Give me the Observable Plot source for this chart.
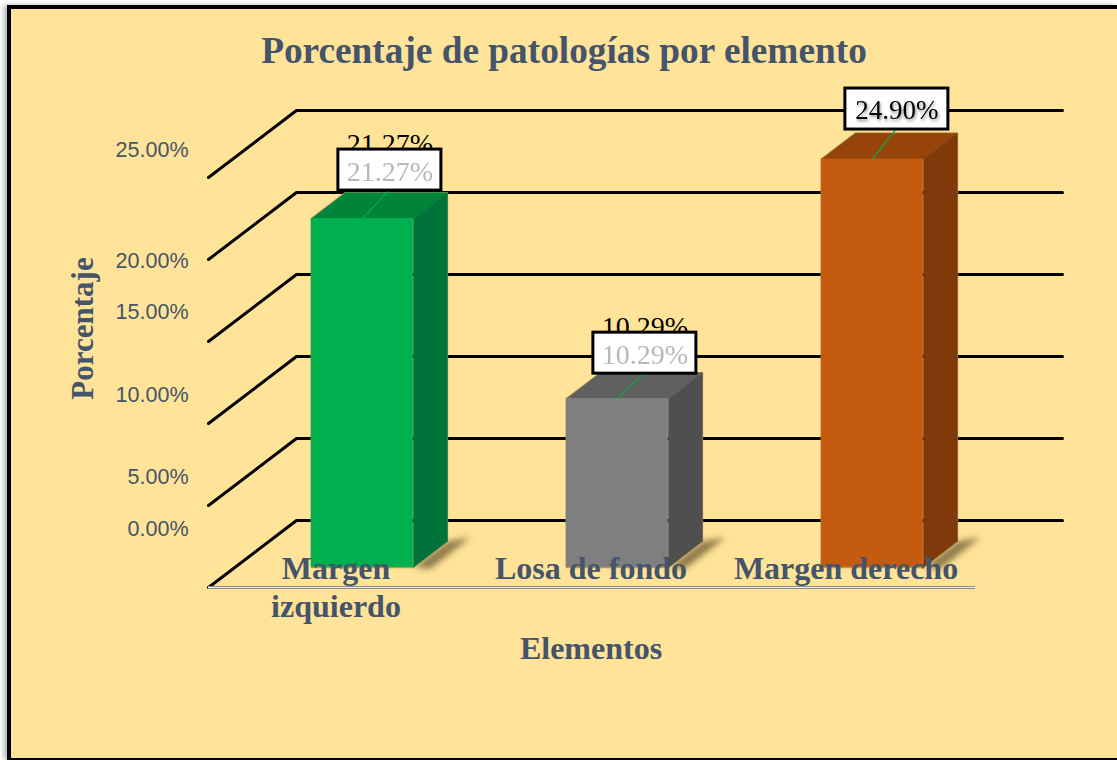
<!DOCTYPE html>
<html lang="es">
<head>
<meta charset="utf-8">
<title>Porcentaje de patologías por elemento</title>
<script src="https://cdn.jsdelivr.net/npm/d3@7"></script>
<script src="https://cdn.jsdelivr.net/npm/@observablehq/plot@0.6"></script>
<style>
  html, body { margin: 0; padding: 0; background: #fff; width: 1117px; height: 760px; overflow: hidden; }
  #frame { position: absolute; left: 7px; top: 5px; width: 1110px; height: 755px; box-sizing: border-box;
           background: #FFE398; border-left: 4px solid #000; border-top: 4px solid #000; border-bottom: 2px solid #000;
           box-shadow: -3px 0 5px rgba(0,0,0,.3); }
  #chart { position: absolute; left: 0; top: 0; }
  #chart svg { background: transparent; display: block; }
</style>
</head>
<body>
<div id="frame"></div>
<div id="chart"></div>
<script>
// Data
const categories = ["Margen\nizquierdo", "Losa de fondo", "Margen derecho"];
const values = [21.27, 10.29, 24.90];
const tickValues = [0, 5, 10, 15, 20, 25];
const titleText = "Porcentaje de patologías por elemento";
const xTitle = "Elementos";
const yTitle = "Porcentaje";

// Styles
const frontColors = ["#00B04F", "#7F7F7F", "#C55A11"];
const topColors = ["#00843A", "#5F5F5F", "#964409"];
const sideColors = ["#00733A", "#4F4F4F", "#7F390B"];
const labelInk = ["#b8b8b8", "#b8b8b8", "#000000"];
const labelSize = [28, 28, 27];
const hasBackLabel = [true, true, false];
const ink = "#44546A";
const serif = "'Liberation Serif', serif";
const sans = "'Liberation Sans', sans-serif";

// Layout: oblique projection of the chart's depth axis, in scale units
const depthX = 0.345, depthY = 4.085;
const barStart = 0.3, barEnd = 0.7, barNear = 0.3, barFar = 0.686;
const wallEnd = 3.004, floorEnd = 3.008;
const tickNudge = [-58, -28, -28, -29, 2, -27];
const labelLift = [-48.5, -45.5, -50];
const labelShift = [0, 0, -3];
const project = (slot, value, z) => ({x: slot + z * depthX, y: value + z * depthY});
const polygon = (pts, options) => Plot.line(pts, {x: "x", y: "y", stroke: "none", ...options});

const marks = [];

// Wall and floor lines
tickValues.forEach(t => {
  marks.push(Plot.line(
    [project(0, t, 0), project(0, t, 1), project(wallEnd, t, 1)],
    {x: "x", y: "y", stroke: "#000", strokeWidth: 3}
  ));
});
marks.push(Plot.ruleY([0], {x1: 0, x2: floorEnd, stroke: "#8c8c8c", strokeWidth: 3}));
marks.push(Plot.ruleY([0], {x1: 0, x2: floorEnd, stroke: "#ececec", strokeWidth: 1}));

// Bars
values.forEach((v, i) => {
  const a = i + barStart, b = i + barEnd;
  marks.push(polygon(
    [project(b, 0, barNear), project(b, 0, barFar), project(b + 0.09, 0.25, barFar), project(b + 0.067, -0.06, barNear)],
    {fill: "#5c4d28", imageFilter: "blur(3px)", fillOpacity: 0.7}
  ));
  marks.push(polygon(
    [project(a, 0, barNear), project(b, 0, barNear), project(b, 0, barFar), project(b, v, barFar),
     project(a, v, barFar), project(a, v, barNear), project(a, 0, barNear)],
    {fill: "none", stroke: "#b09a5c", strokeWidth: 1.6}
  ));
  marks.push(polygon(
    [project(a, v, barNear), project(b, v, barNear), project(b, v, barFar), project(a, v, barFar)],
    {fill: topColors[i], stroke: topColors[i], strokeWidth: 0.5}
  ));
  marks.push(polygon(
    [project(b, 0, barNear), project(b, v, barNear), project(b, v, barFar), project(b, 0, barFar)],
    {fill: sideColors[i], stroke: sideColors[i], strokeWidth: 0.5}
  ));
  const nearBL = project(a, 0, barNear), nearTR = project(b, v, barNear);
  marks.push(Plot.rect([0], {
    x1: nearBL.x, x2: nearTR.x, y1: nearBL.y, y2: nearTR.y,
    fill: frontColors[i]
  }));
});

// Data labels with leader lines
values.forEach((v, i) => {
  const anchor = project(i + 0.5, v, barNear);
  const unitsY = labelLift[i] / 16.4;
  const cx = anchor.x + (27.5 + labelShift[i]) / 255, cy = anchor.y - unitsY;
  const halfW = 51.5 / 255, halfH = 20.5 / 16.4;
  const label = d3.format(".2f")(v) + "%";
  const base = {x: cx, y: cy, text: [label], fontFamily: serif, fontSize: labelSize[i], textAnchor: "middle"};
  marks.push(Plot.line([anchor, {x: cx - 0.005, y: cy - halfH}], {x: "x", y: "y", stroke: "#00B050", strokeWidth: 1.2}));
  if (hasBackLabel[i]) marks.push(Plot.text([0], {...base, dy: -26, fill: "#000"}));
  marks.push(Plot.rect([0], {
    x1: cx - halfW, x2: cx + halfW, y1: cy - halfH, y2: cy + halfH,
    fill: "#fff", stroke: "#000", strokeWidth: 3
  }));
  marks.push(Plot.text([0], {
    ...base, dy: 1.5, fill: labelInk[i],
    imageFilter: hasBackLabel[i] ? "blur(0.6px)" : "drop-shadow(1px 2px 1.5px rgba(0,0,0,.45))"
  }));
});

// Value tick labels
tickValues.forEach((t, i) => {
  marks.push(Plot.text([0], {
    x: 0, y: t, dx: -20, dy: tickNudge[i],
    text: [t.toFixed(2) + "%"], textAnchor: "end",
    fontFamily: sans, fontSize: 21.5, fill: ink
  }));
});

// Category labels
categories.forEach((c, i) => {
  marks.push(Plot.text([0], {
    x: i + 0.5, y: 0, dy: -36, text: [c], lineAnchor: "top", lineHeight: 1.2,
    textAnchor: "middle", fontFamily: serif, fontWeight: "bold", fontSize: 32, fill: ink
  }));
});

// Titles
marks.push(Plot.text([0], {
  x: 1.5, dx: -27, frameAnchor: "top", dy: -141, text: [titleText], textAnchor: "middle",
  fontFamily: serif, fontWeight: "bold", fontSize: 37.3, fill: ink
}));
marks.push(Plot.text([0], {
  x: 1.5, y: 0, dy: 61, text: [xTitle], textAnchor: "middle",
  fontFamily: serif, fontWeight: "bold", fontSize: 32, fill: ink
}));
marks.push(Plot.text([0], {
  x: 0, y: 0, dx: -125, dy: -259, text: [yTitle], rotate: -90, textAnchor: "middle",
  fontFamily: serif, fontWeight: "bold", fontSize: 31, fill: ink
}));

const chart = Plot.plot({
  width: 1117, height: 760,
  marginLeft: 208, marginRight: 144, marginTop: 177, marginBottom: 173,
  x: {type: "linear", domain: [0, 3], axis: null},
  y: {type: "linear", domain: [0, 25], axis: null},
  marks
});
document.getElementById("chart").append(chart);
</script>
</body>
</html>
